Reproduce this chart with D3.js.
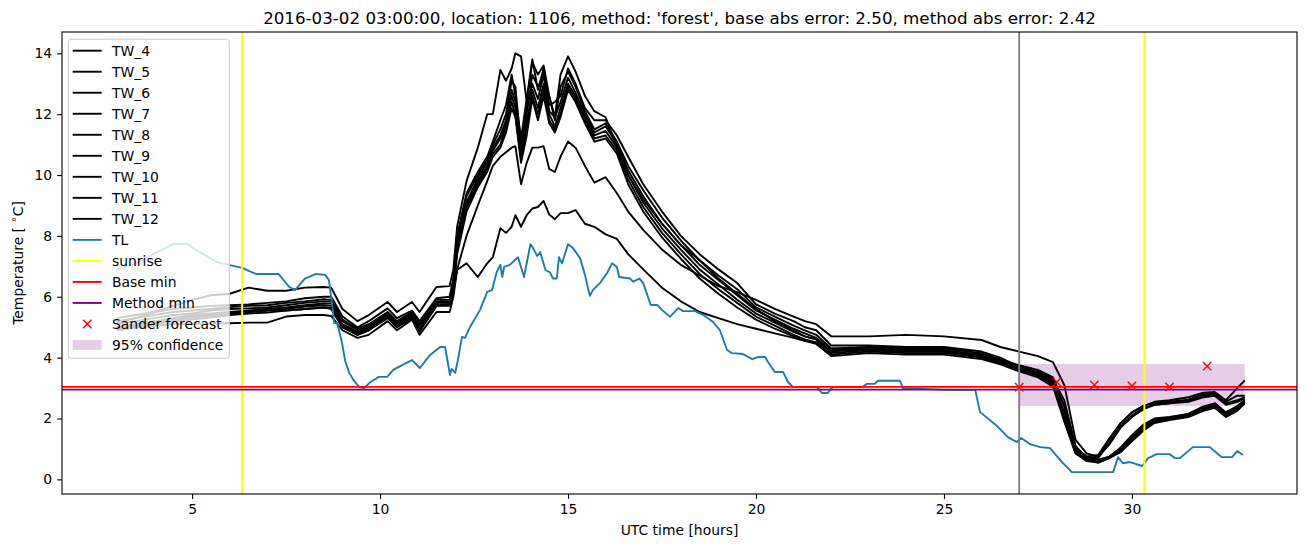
<!DOCTYPE html>
<html>
<head>
<meta charset="utf-8">
<script src="https://cdn.jsdelivr.net/npm/d3@7"></script>
<style>
  body { margin: 0; background: #fff; }
  svg text { font-family: "DejaVu Sans", sans-serif; fill: #000; }
</style>
</head>
<body>
<svg id="chart" width="1310" height="547"></svg>
<script>
// time grid (UTC hours) shared by the TW_* series
const hoursTW = [3.0, 3.5, 4.0, 4.5, 5.0, 5.5, 6.0, 6.5, 7.0, 7.5, 8.0, 8.5, 8.7, 9.0, 9.4, 9.7, 10.2, 10.45, 10.85, 11.05,
  11.5, 11.85, 11.95, 12.05, 12.3, 12.6, 12.85, 13.0, 13.2, 13.35, 13.5, 13.6, 13.75, 13.9, 14.05, 14.2, 14.35, 14.5, 14.65, 14.8,
  15.0, 15.2, 15.45, 15.7, 16.0, 16.3, 16.6, 17.0, 17.5, 18.0, 18.5, 19.0, 19.5, 20.0, 20.5, 21.0, 21.3, 21.6, 22.0, 23.0,
  24.0, 25.0, 26.0, 26.5, 27.0, 27.5, 27.9, 28.2, 28.5, 28.8, 29.1, 29.4, 29.7, 30.0, 30.3, 30.6, 31.0, 31.5, 31.9, 32.2,
  32.5, 32.8, 33.0];

const tw4 = [5.15, 5.3, 5.5, 5.7, 5.9, 6.05, 6.1, 6.3, 6.2, 6.2, 6.3, 6.32, 6.3, 5.6, 5.2, 5.4, 5.83, 5.5, 5.83, 5.5,
  6.32, 6.35, 6.9, 8.3, 9.8, 10.9, 12.0, 12.0, 13.45, 13.1, 13.5, 14.0, 13.9, 12.4, 13.7, 13.3, 13.6, 12.6, 11.9, 13.3,
  13.9, 13.4, 12.6, 12.1, 11.9, 10.9, 10.0, 9.2, 8.4, 7.7, 7.2, 6.6, 6.1, 5.6, 5.2, 4.9, 4.7, 4.6, 4.2, 4.3,
  4.3, 4.2, 4.1, 3.95, 3.75, 3.6, 3.35, 2.4, 1.05, 0.75, 0.8, 1.35, 1.85, 2.2, 2.42, 2.5, 2.55, 2.62, 2.8, 2.82,
  2.55, 2.75, 2.75];
const tw5 = [5.3, 5.4, 5.5, 5.6, 5.65, 5.7, 5.72, 5.75, 5.8, 5.85, 5.95, 6.0, 6.0, 5.35, 5.0, 5.2, 5.62, 5.3, 5.55, 5.2,
  5.95, 6.0, 6.6, 8.0, 9.4, 10.1, 10.6, 11.1, 11.8, 12.3, 13.3, 12.6, 11.2, 12.5, 13.8, 12.8, 13.5, 12.3, 12.4, 12.6,
  13.5, 13.0, 12.2, 11.8, 11.8, 11.3, 10.6, 9.7, 8.8, 8.0, 7.4, 6.9, 6.45, 5.75, 5.45, 5.2, 5.0, 4.9, 4.4, 4.4,
  4.35, 4.35, 4.2, 4.0, 3.7, 3.55, 3.3, 2.6, 1.1, 0.7, 0.7, 1.2, 1.75, 2.1, 2.35, 2.45, 2.5, 2.6, 2.75, 2.8,
  2.5, 2.6, 2.7];
const tw6 = [5.2, 5.3, 5.4, 5.5, 5.55, 5.6, 5.66, 5.7, 5.72, 5.8, 5.85, 5.92, 5.9, 5.25, 4.95, 5.1, 5.5, 5.2, 5.5, 5.1,
  5.9, 5.9, 6.5, 7.9, 9.3, 10.0, 10.5, 11.0, 11.5, 12.0, 13.1, 12.9, 10.9, 12.0, 13.3, 12.9, 13.2, 12.6, 11.8, 12.9,
  13.4, 12.9, 12.1, 11.5, 11.7, 11.1, 10.3, 9.5, 8.6, 7.85, 7.2, 6.7, 6.25, 5.65, 5.35, 5.05, 4.9, 4.75, 4.3, 4.35,
  4.3, 4.3, 4.15, 3.95, 3.65, 3.5, 3.25, 2.4, 1.0, 0.7, 0.75, 1.15, 1.7, 2.05, 2.3, 2.45, 2.5, 2.55, 2.7, 2.75,
  2.45, 2.55, 2.65];
const tw7 = [5.1, 5.2, 5.3, 5.4, 5.45, 5.55, 5.6, 5.62, 5.65, 5.72, 5.8, 5.85, 5.85, 5.2, 4.9, 5.05, 5.45, 5.15, 5.45, 5.05,
  5.85, 5.85, 6.4, 7.7, 9.1, 9.9, 10.4, 10.9, 11.3, 11.8, 12.8, 12.4, 10.7, 12.2, 13.0, 12.5, 13.3, 12.1, 11.9, 12.4,
  13.2, 12.7, 12.0, 11.4, 11.6, 11.0, 10.15, 9.3, 8.4, 7.7, 7.05, 6.55, 6.05, 5.55, 5.25, 4.95, 4.8, 4.65, 4.25, 4.3,
  4.25, 4.25, 4.1, 3.9, 3.62, 3.45, 3.2, 2.2, 0.95, 0.6, 0.6, 0.75, 1.05, 1.45, 1.8, 2.0, 2.05, 2.15, 2.4, 2.5,
  2.2, 2.4, 2.6];
const tw8 = [5.0, 5.1, 5.2, 5.3, 5.4, 5.45, 5.5, 5.55, 5.6, 5.65, 5.72, 5.78, 5.78, 5.1, 4.85, 5.0, 5.4, 5.1, 5.4, 4.95,
  5.8, 5.8, 6.3, 7.6, 9.0, 9.8, 10.3, 10.8, 11.2, 11.7, 12.6, 12.2, 10.6, 11.7, 12.8, 12.2, 13.0, 12.0, 11.6, 12.2,
  13.0, 12.6, 11.9, 11.3, 11.45, 10.9, 10.0, 9.1, 8.25, 7.55, 6.9, 6.4, 5.9, 5.45, 5.15, 4.85, 4.7, 4.6, 4.15, 4.25,
  4.2, 4.2, 4.05, 3.85, 3.6, 3.42, 3.15, 2.05, 0.9, 0.65, 0.55, 0.7, 1.0, 1.4, 1.75, 1.95, 2.0, 2.1, 2.3, 2.45,
  2.15, 2.35, 2.55];
const tw9 = [4.95, 5.05, 5.15, 5.25, 5.3, 5.38, 5.45, 5.5, 5.55, 5.6, 5.68, 5.72, 5.7, 5.05, 4.8, 4.95, 5.35, 5.05, 5.35, 4.9,
  5.75, 5.75, 6.2, 7.5, 8.9, 9.7, 10.2, 10.7, 11.0, 11.6, 12.4, 12.0, 10.5, 11.5, 12.6, 12.0, 12.8, 11.8, 11.5, 12.0,
  12.9, 12.5, 11.8, 11.2, 11.3, 10.8, 9.85, 8.95, 8.1, 7.4, 6.75, 6.25, 5.8, 5.35, 5.05, 4.75, 4.6, 4.5, 4.1, 4.2,
  4.15, 4.15, 4.0, 3.82, 3.58, 3.4, 3.1, 1.95, 0.85, 0.6, 0.6, 0.72, 0.95, 1.3, 1.65, 1.9, 1.97, 2.08, 2.3, 2.4,
  2.1, 2.3, 2.5];
const tw10 = [4.9, 5.0, 5.1, 5.2, 5.25, 5.32, 5.4, 5.45, 5.48, 5.55, 5.6, 5.65, 5.63, 5.0, 4.75, 4.9, 5.3, 5.0, 5.3, 4.85,
  5.7, 5.7, 6.1, 7.4, 8.8, 9.6, 10.1, 10.6, 10.9, 11.4, 12.2, 11.9, 10.4, 11.3, 12.5, 11.8, 12.6, 11.7, 11.4, 11.9,
  12.8, 12.4, 11.7, 11.1, 11.2, 10.7, 9.7, 8.8, 7.95, 7.25, 6.6, 6.1, 5.65, 5.25, 4.95, 4.7, 4.55, 4.45, 4.05, 4.15,
  4.1, 4.1, 3.95, 3.78, 3.55, 3.35, 3.05, 1.9, 0.85, 0.65, 0.65, 0.75, 0.9, 1.25, 1.6, 1.85, 1.95, 2.05, 2.25, 2.35,
  2.05, 2.25, 2.5];
const tw11 = [4.95, 5.05, 5.15, 5.25, 5.35, 5.4, 5.45, 5.5, 5.55, 5.55, 5.6, 5.65, 5.6, 5.0, 4.75, 4.9, 5.35, 5.0, 5.35, 4.9,
  5.7, 5.75, 6.2, 6.9, 8.0, 9.0, 9.8, 10.3, 10.6, 10.75, 10.9, 10.95, 9.7, 10.4, 10.9, 10.9, 10.95, 10.2, 10.1, 10.6,
  11.1, 10.9, 10.3, 9.75, 9.93, 9.4, 8.8, 8.2, 7.55, 7.05, 6.7, 6.35, 6.15, 5.9, 5.6, 5.35, 5.2, 5.1, 4.7, 4.7,
  4.75, 4.7, 4.58, 4.35, 4.2, 4.05, 3.85, 3.1, 1.3, 0.85, 0.75, 1.3, 1.85, 2.2, 2.4, 2.55, 2.6, 2.7, 2.85, 2.87,
  2.6, 3.0, 3.25];
const tw12 = [4.9, 5.0, 5.05, 5.1, 5.1, 5.12, 5.13, 5.15, 5.15, 5.35, 5.4, 5.4, 5.37, 4.9, 4.65, 4.75, 5.2, 4.9, 5.25, 4.75,
  5.5, 5.5, 6.0, 6.88, 7.1, 6.65, 7.1, 7.3, 8.25, 8.1, 8.3, 8.68, 8.3, 8.68, 8.9, 8.95, 9.15, 8.7, 8.55, 8.75,
  8.75, 8.85, 8.4, 8.3, 8.05, 7.9, 7.4, 6.9, 6.3, 5.85, 5.5, 5.3, 5.1, 4.95, 4.8, 4.65, 4.55, 4.5, 4.3, 4.25,
  4.2, 4.2, 4.05, 3.9, 3.65, 3.5, 3.2, 2.1, 0.9, 0.6, 0.55, 0.7, 0.9, 1.35, 1.7, 1.95, 2.0, 2.15, 2.35, 2.5,
  2.2, 2.4, 2.6];

const twNames = ['TW_4', 'TW_5', 'TW_6', 'TW_7', 'TW_8', 'TW_9', 'TW_10', 'TW_11', 'TW_12'];
const twSeries = [tw4, tw5, tw6, tw7, tw8, tw9, tw10, tw11, tw12];

// TL (air temperature): [hour, value]
const tlPoints = [[3.0, 6.91], [3.5, 7.1], [4.07, 7.47], [4.5, 7.73], [4.87, 7.73], [5.2, 7.47], [5.66, 7.14], [6.0, 7.04],
  [6.33, 6.95], [6.52, 6.84], [6.7, 6.75], [7.3, 6.75], [7.58, 6.33], [7.74, 6.22], [8.0, 6.6], [8.3, 6.75], [8.54, 6.72],
  [8.64, 6.55], [8.72, 5.8], [8.78, 5.14], [8.86, 5.14], [8.99, 4.48], [9.07, 3.9], [9.18, 3.5], [9.3, 3.25], [9.44, 3.04],
  [9.57, 3.0], [9.75, 3.2], [9.97, 3.37], [10.19, 3.37], [10.35, 3.6], [10.6, 3.76], [10.85, 3.92], [11.06, 3.66],
  [11.33, 4.09], [11.6, 4.35], [11.73, 4.35], [11.86, 3.43], [11.9, 3.63], [12.0, 3.5], [12.07, 3.92], [12.18, 4.68],
  [12.26, 4.65], [12.39, 5.0], [12.66, 5.57], [12.85, 6.16], [12.98, 6.22], [13.1, 6.8], [13.2, 7.05], [13.25, 6.65],
  [13.3, 6.98], [13.45, 7.05], [13.67, 7.3], [13.83, 6.65], [14.0, 7.73], [14.07, 7.6], [14.18, 7.34], [14.26, 7.47],
  [14.4, 6.88], [14.52, 6.8], [14.6, 6.6], [14.7, 6.6], [14.76, 7.3], [14.84, 7.1], [15.0, 7.73], [15.13, 7.6],
  [15.32, 7.27], [15.45, 6.72], [15.58, 6.03], [15.66, 6.22], [15.85, 6.45], [16.04, 6.78], [16.17, 7.1], [16.3, 6.98],
  [16.36, 6.65], [16.65, 6.6], [16.73, 6.5], [16.9, 6.6], [17.0, 6.45], [17.2, 5.73], [17.37, 5.73], [17.5, 5.57],
  [17.71, 5.34], [17.93, 5.63], [18.06, 5.53], [18.38, 5.53], [18.6, 5.4], [18.86, 5.17], [19.04, 4.9], [19.23, 4.25],
  [19.36, 4.15], [19.65, 4.12], [19.9, 3.95], [20.05, 4.02], [20.24, 4.02], [20.32, 3.86], [20.5, 3.53], [20.72, 3.53],
  [20.85, 3.2], [20.98, 3.04], [21.62, 3.04], [21.75, 2.84], [21.91, 2.84], [22.04, 3.04], [22.84, 3.04], [22.95, 3.14],
  [23.16, 3.14], [23.24, 3.24], [23.83, 3.24], [23.91, 3.0], [25.08, 2.94], [25.83, 2.94], [25.96, 2.21], [26.22, 1.95],
  [26.44, 1.72], [26.7, 1.39], [26.84, 1.29], [26.94, 1.23], [27.05, 1.36], [27.29, 1.16], [27.56, 1.06], [27.82, 1.03],
  [28.14, 0.57], [28.4, 0.24], [29.5, 0.24], [29.63, 0.73], [29.76, 0.53], [29.95, 0.57], [30.27, 0.44], [30.43, 0.7],
  [30.66, 0.83], [31.0, 0.83], [31.14, 0.7], [31.28, 0.7], [31.4, 0.83], [31.62, 1.06], [32.07, 1.06], [32.39, 0.73],
  [32.66, 0.73], [32.8, 0.93], [32.95, 0.8]];

const sunriseHours = [6.33, 30.33];
const forecastTime = 27;
const baseMin = 3.04;
const methodMin = 2.95;
const sanderHours = [27, 28, 29, 30, 31, 32];
const sanderValues = [3.03, 3.2, 3.1, 3.07, 3.04, 3.72];
const confHours = [27, 33];
const confLow = 2.41, confHigh = 3.79;

const xTicks = [5, 10, 15, 20, 25, 30];
const yTicks = [0, 2, 4, 6, 8, 10, 12, 14];
const titleText = "2016-03-02 03:00:00, location: 1106, method: 'forest', base abs error: 2.50, method abs error: 2.42";

// layout
const plot = {left: 62, right: 1297, top: 32, bottom: 494};
const fontSize = 13.9;

const svg = d3.select("#chart");
const x = d3.scaleLinear().domain([1.54, 34.39]).range([plot.left, plot.right]);
const y = d3.scaleLinear().domain([-0.48, 14.7]).range([plot.bottom, plot.top]);

svg.append("defs").append("clipPath").attr("id", "clip")
  .append("rect")
  .attr("x", plot.left).attr("y", plot.top)
  .attr("width", plot.right - plot.left).attr("height", plot.bottom - plot.top);

const area = svg.append("g").attr("clip-path", "url(#clip)");

// 95% confidence band (patch, drawn under the lines)
area.append("rect")
  .attr("x", x(confHours[0])).attr("width", x(confHours[1]) - x(confHours[0]))
  .attr("y", y(confHigh)).attr("height", y(confLow) - y(confHigh))
  .attr("fill", "purple").attr("fill-opacity", 0.2);

const line = d3.line().x(d => x(d[0])).y(d => y(d[1]));

twSeries.forEach(vals => {
  area.append("path")
    .datum(hoursTW.map((h, i) => [h, vals[i]]))
    .attr("d", line)
    .attr("fill", "none").attr("stroke", "#000").attr("stroke-width", 1.9)
    .attr("stroke-linejoin", "round");
});

area.append("path")
  .datum(tlPoints)
  .attr("d", line)
  .attr("fill", "none").attr("stroke", "#1f77b4").attr("stroke-width", 1.9)
  .attr("stroke-linejoin", "round");

// vertical lines
sunriseHours.forEach(h => {
  area.append("line")
    .attr("x1", x(h)).attr("x2", x(h)).attr("y1", plot.top).attr("y2", plot.bottom)
    .attr("stroke", "yellow").attr("stroke-width", 1.9);
});

// horizontal min lines
area.append("line")
  .attr("x1", plot.left).attr("x2", plot.right).attr("y1", y(baseMin)).attr("y2", y(baseMin))
  .attr("stroke", "red").attr("stroke-width", 1.9);
area.append("line")
  .attr("x1", plot.left).attr("x2", plot.right).attr("y1", y(methodMin)).attr("y2", y(methodMin))
  .attr("stroke", "purple").attr("stroke-width", 1.9);

area.append("line")
  .attr("x1", x(forecastTime)).attr("x2", x(forecastTime)).attr("y1", plot.top).attr("y2", plot.bottom)
  .attr("stroke", "grey").attr("stroke-width", 1.9);

// sander forecast markers
const cross = (g, cx, cy, r) => {
  g.append("path")
    .attr("d", `M${cx - r},${cy - r}L${cx + r},${cy + r}M${cx - r},${cy + r}L${cx + r},${cy - r}`)
    .attr("stroke", "red").attr("stroke-width", 1.4).attr("fill", "none");
};
sanderHours.forEach((h, i) => cross(area, x(h), y(sanderValues[i]), 4.2));

// axes
const xAxis = svg.append("g")
  .attr("transform", `translate(0,${plot.bottom})`)
  .call(d3.axisBottom(x).tickValues(xTicks).tickSize(4.9).tickPadding(4.9).tickSizeOuter(0));
const yAxis = svg.append("g")
  .attr("transform", `translate(${plot.left},0)`)
  .call(d3.axisLeft(y).tickValues(yTicks).tickSize(4.9).tickPadding(4.9).tickSizeOuter(0));
[xAxis, yAxis].forEach(a => {
  a.select(".domain").remove();
  a.selectAll("line").attr("stroke", "#000").attr("stroke-width", 1.1);
  a.selectAll("text").attr("font-size", fontSize).attr("font-family", "DejaVu Sans").attr("fill", "#000");
});

svg.append("rect")
  .attr("x", plot.left).attr("y", plot.top)
  .attr("width", plot.right - plot.left).attr("height", plot.bottom - plot.top)
  .attr("fill", "none").attr("stroke", "#000").attr("stroke-width", 1.1);

// labels
svg.append("text")
  .attr("x", (plot.left + plot.right) / 2).attr("y", 18)
  .attr("text-anchor", "middle").attr("dominant-baseline", "central")
  .attr("font-size", 16.7).text(titleText);
svg.append("text")
  .attr("x", (plot.left + plot.right) / 2).attr("y", 530)
  .attr("text-anchor", "middle").attr("dominant-baseline", "central")
  .attr("font-size", fontSize).text("UTC time [hours]");
const yLabel = svg.append("text")
  .attr("transform", `translate(18,${(plot.top + plot.bottom) / 2}) rotate(-90)`)
  .attr("text-anchor", "middle").attr("dominant-baseline", "central")
  .attr("font-size", fontSize);
yLabel.append("tspan").text("Temperature [ ");
yLabel.append("tspan").attr("font-size", 10).attr("dy", -5).text("\u2218");
yLabel.append("tspan").attr("dy", 5).text("C]");

// legend
const legendItems = twNames.map(n => ({label: n, kind: "line", color: "#000"}))
  .concat([
    {label: "TL", kind: "line", color: "#1f77b4"},
    {label: "sunrise", kind: "line", color: "yellow"},
    {label: "Base min", kind: "line", color: "red"},
    {label: "Method min", kind: "line", color: "purple"},
    {label: "Sander forecast", kind: "marker", color: "red"},
    {label: "95% confidence", kind: "patch", color: "purple"}
  ]);

const legend = svg.append("g");
legend.append("rect")
  .attr("x", 68.3).attr("y", 39.3).attr("width", 161).attr("height", 319)
  .attr("rx", 3).attr("fill", "#fff").attr("fill-opacity", 0.8)
  .attr("stroke", "#cccccc").attr("stroke-width", 1);

legendItems.forEach((item, i) => {
  const cy = 50.7 + 21.02 * i;
  if (item.kind === "line") {
    legend.append("line")
      .attr("x1", 72.7).attr("x2", 101.7).attr("y1", cy).attr("y2", cy)
      .attr("stroke", item.color).attr("stroke-width", 1.9);
  } else if (item.kind === "marker") {
    cross(legend, 87.2, cy, 4.2);
  } else {
    legend.append("rect")
      .attr("x", 72.7).attr("y", cy - 4.9).attr("width", 29).attr("height", 9.7)
      .attr("fill", item.color).attr("fill-opacity", 0.2);
  }
  legend.append("text")
    .attr("x", 112).attr("y", cy + 0.5)
    .attr("dominant-baseline", "central")
    .attr("font-size", fontSize).text(item.label);
});
</script>
</body>
</html>
